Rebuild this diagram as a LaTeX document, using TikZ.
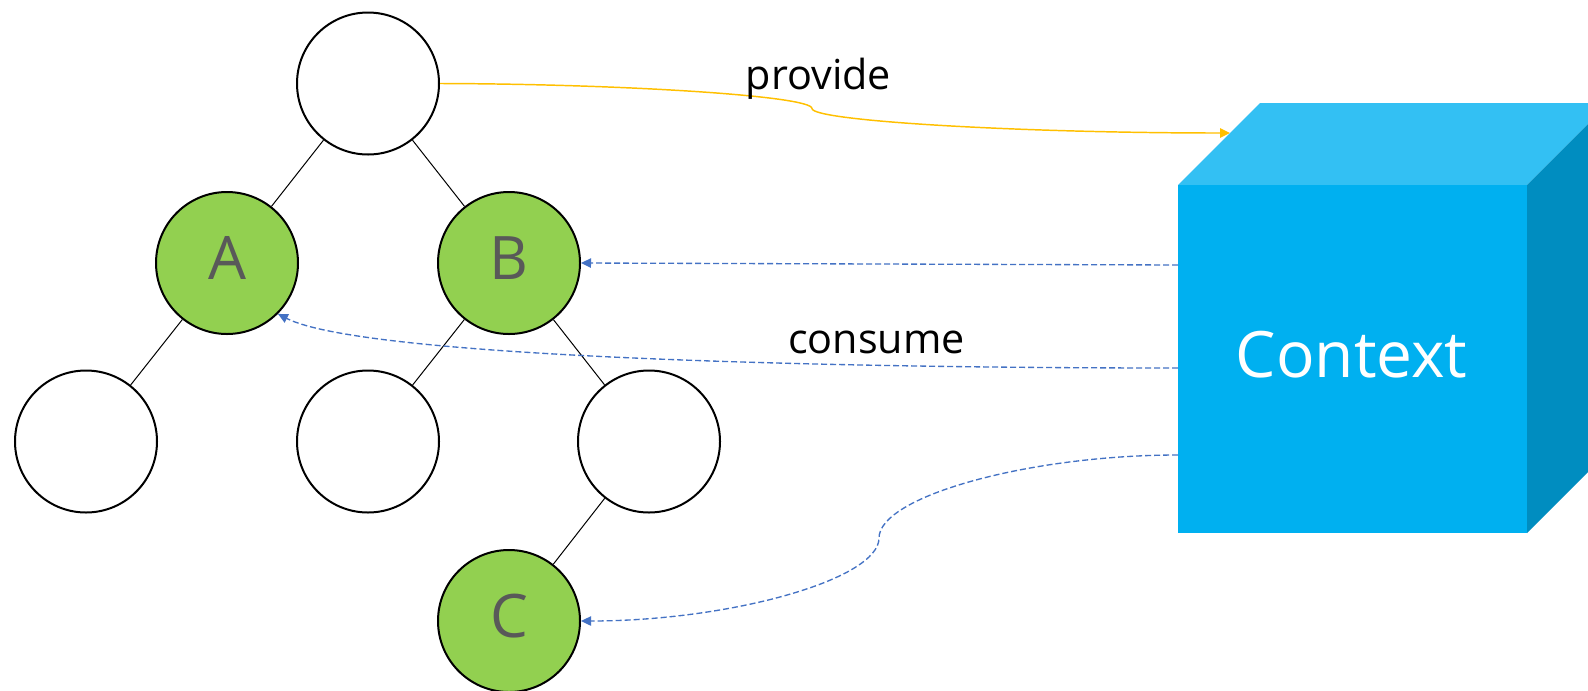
\documentclass[tikz,border=0pt]{standalone}
\usepackage{fontspec}
\setmainfont{Open Sans}
\usetikzlibrary{arrows.meta}
\definecolor{nodegreen}{HTML}{92D050}
\definecolor{lettergray}{HTML}{595959}
\definecolor{linkblue}{HTML}{4472C4}
\definecolor{provyellow}{HTML}{FFC000}
\definecolor{cubefrontc}{HTML}{00B0F0}
\definecolor{cubetopc}{HTML}{33C0F3}
\definecolor{cubesidec}{HTML}{008DC0}
\tikzset{
  treenode/.style={circle, draw=black, line width=1.5pt, fill=white, minimum size=106.5pt, inner sep=0pt},
  greennode/.style={treenode, fill=nodegreen, text=lettergray, font=\fontsize{45}{52}\selectfont, text depth=7.5pt},
  treeedge/.style={draw=black, line width=0.75pt},
  consumeline/.style={draw=linkblue, line width=1pt, dash pattern=on 4.5pt off 2.25pt, -{Triangle[length=7.5pt,width=7pt]}},
  provideline/.style={draw=provyellow, line width=1.1pt, -{Triangle[length=7.5pt,width=7pt]}},
  cubefront/.style={rectangle, fill=cubefrontc, minimum width=261.75pt, minimum height=261pt, inner sep=0pt, outer sep=0pt},
  labeltext/.style={text=black, font=\fontsize{31}{37}\selectfont, anchor=base, inner sep=0pt},
}
\begin{document}
\begin{tikzpicture}[x=0.75pt,y=-0.75pt]
\useasboundingbox (0,0) rectangle (1588,690);
\fill[white] (0,0) rectangle (1588,690);
% cube
\begin{scope}
\clip (0,0) rectangle (1588,690);
\fill[cubetopc] (1178,185) -- (1260,103) -- (1609,103) -- (1527,185) -- cycle;
\fill[cubesidec] (1527,185) -- (1609,103) -- (1609,451) -- (1527,533) -- cycle;
\end{scope}
\node[cubefront] (ctx) at (1352.5,359) {};
\node[text=white, font=\fontsize{48}{57}\selectfont, anchor=base, inner sep=0pt] (ctxlabel) at (1351.5,377) {Context};
% tree
\node[treenode] (root) at (368,83.5) {};
\node[greennode] (A) at (227,263) {A};
\node[greennode] (B) at (509,263) {B};
\node[treenode] (L1) at (86,441.5) {};
\node[treenode] (L2) at (368,441.5) {};
\node[treenode] (L3) at (649,441.5) {};
\node[greennode] (C) at (509,621) {C};
\draw[treeedge] (root) -- (A);
\draw[treeedge] (root) -- (B);
\draw[treeedge] (A) -- (L1);
\draw[treeedge] (B) -- (L2);
\draw[treeedge] (B) -- (L3);
\draw[treeedge] (L3) -- (C);
% connector anchors on the cube
\coordinate (ytip) at (1230,133);
\coordinate (c1) at ([yshift=70.5pt]ctx.west);
\coordinate (c2) at ([yshift=-6.75pt]ctx.west);
\coordinate (c3) at ([yshift=-72pt]ctx.west);
% provide
\draw[provideline] (root.east) .. controls (625,84) and (812,96) .. (812,108.5) .. controls (812,121) and (1021,133) .. (ytip);
\node[labeltext] (provide) at (818.5,89) {provide};
% consume
\draw[consumeline] (c1) -- (B.east);
\draw[consumeline] (c2) .. controls (800,368) and (360,356) .. (A.-45);
\draw[consumeline] (c3) .. controls (1028.5,455) and (879,496.5) .. (879,538) .. controls (879,579.5) and (729.5,621) .. (C.east);
\node[labeltext] (consume) at (876.5,353) {consume};
\end{tikzpicture}
\end{document}
